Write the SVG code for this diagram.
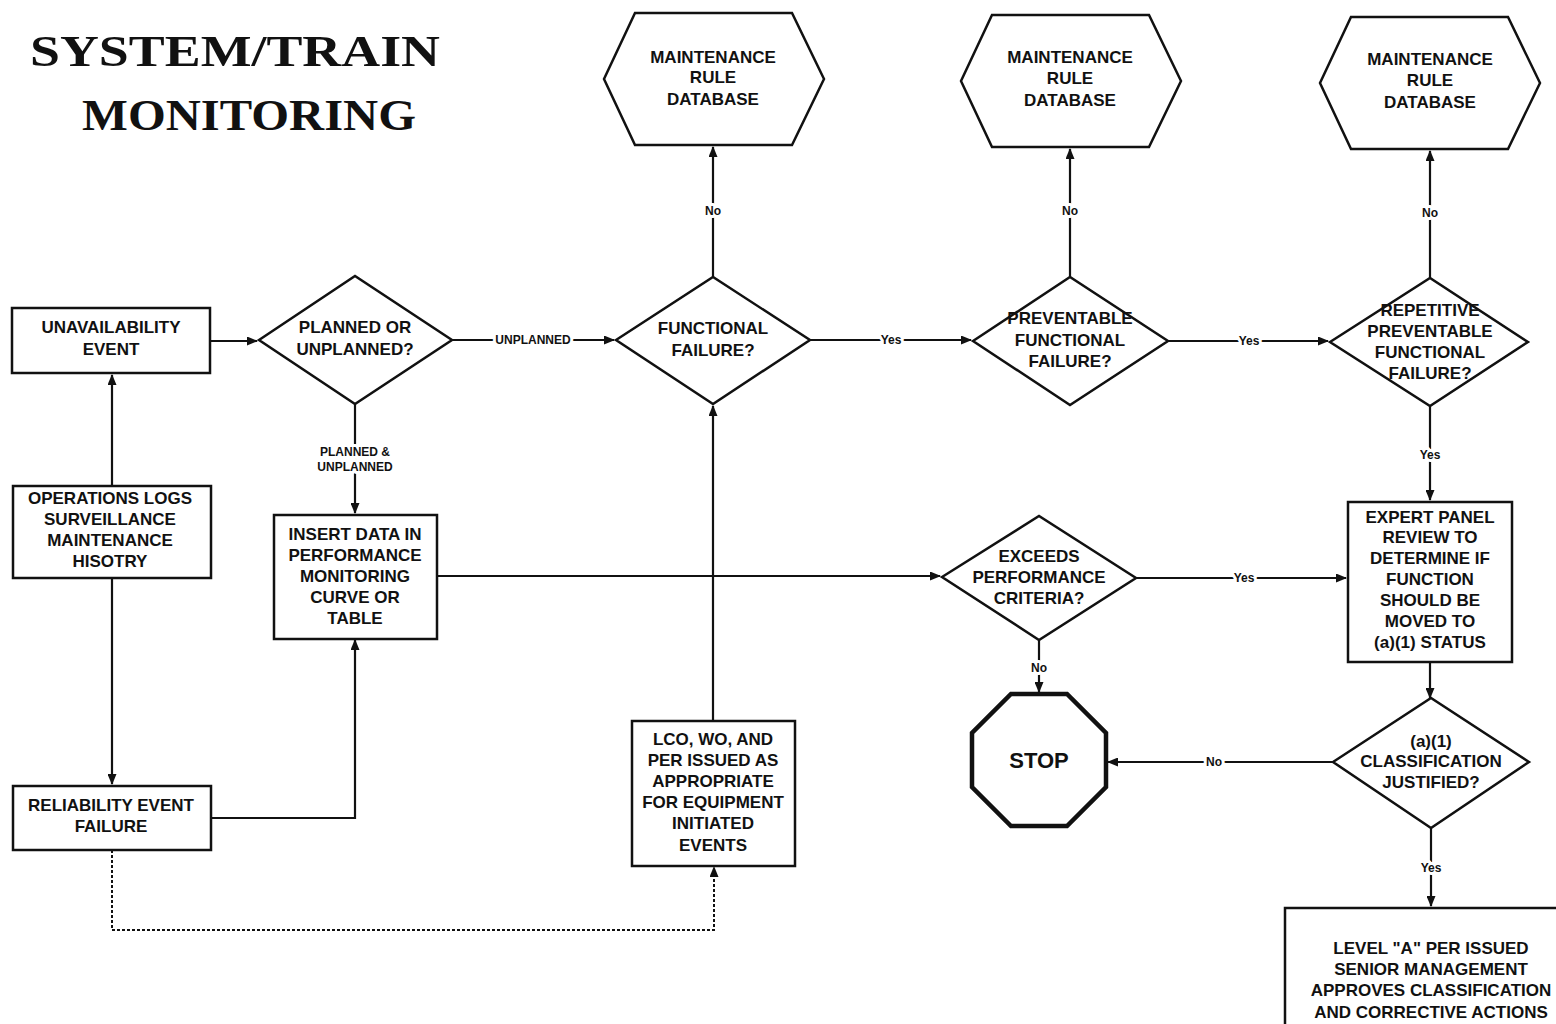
<svg xmlns="http://www.w3.org/2000/svg" width="1556" height="1024" viewBox="0 0 1556 1024">
<style>
.shape{fill:#fff;stroke:#111;stroke-width:2.5}
.stop{fill:#fff;stroke:#111;stroke-width:4.5}
.t{font-family:"Liberation Sans",Arial,sans-serif;font-weight:bold;font-size:17px;fill:#111;text-anchor:middle}
.lbl{font-family:"Liberation Sans",Arial,sans-serif;font-weight:bold;font-size:12px;fill:#111;text-anchor:middle;stroke:#fff;stroke-width:6;paint-order:stroke;stroke-linejoin:round}
.title{font-family:"Liberation Serif","Times New Roman",serif;font-weight:bold;font-size:44px;fill:#111;text-anchor:middle}
.c{fill:none;stroke:#111;stroke-width:2.2}
.d{fill:none;stroke:#111;stroke-width:2;stroke-dasharray:3 2}
</style>
<defs>
<marker id="ah" markerWidth="11" markerHeight="9" refX="10" refY="4.5" orient="auto" markerUnits="userSpaceOnUse">
<path d="M0,0 L11,4.5 L0,9 z" fill="#111"/>
</marker>
</defs>
<rect width="1556" height="1024" fill="#fff"/>

<g id="title">
<text class="title" x="235" y="66" textLength="410" lengthAdjust="spacingAndGlyphs">SYSTEM/TRAIN</text>
<text class="title" x="249" y="130" textLength="334" lengthAdjust="spacingAndGlyphs">MONITORING</text>
</g>

<g id="connectors">
<path class="c" d="M210,341 H257" marker-end="url(#ah)"/>
<path class="c" d="M452,340 H614" marker-end="url(#ah)"/>
<path class="c" d="M810,340 H971" marker-end="url(#ah)"/>
<path class="c" d="M1168,341 H1328" marker-end="url(#ah)"/>
<path class="c" d="M713,277 V147" marker-end="url(#ah)"/>
<path class="c" d="M1070,277 V149" marker-end="url(#ah)"/>
<path class="c" d="M1430,278 V151" marker-end="url(#ah)"/>
<path class="c" d="M355,404 V513" marker-end="url(#ah)"/>
<path class="c" d="M112,486 V375" marker-end="url(#ah)"/>
<path class="c" d="M112,578 V784" marker-end="url(#ah)"/>
<path class="c" d="M211,818 H355 V640" marker-end="url(#ah)"/>
<path class="d" d="M112,850 V930 H714 V867" marker-end="url(#ah)"/>
<path class="c" d="M713,722 V406" marker-end="url(#ah)"/>
<path class="c" d="M437,576 H940" marker-end="url(#ah)"/>
<path class="c" d="M1136,578 H1346" marker-end="url(#ah)"/>
<path class="c" d="M1430,406 V500" marker-end="url(#ah)"/>
<path class="c" d="M1039,640 V692" marker-end="url(#ah)"/>
<path class="c" d="M1430,662 V698" marker-end="url(#ah)"/>
<path class="c" d="M1333,762 H1108" marker-end="url(#ah)"/>
<path class="c" d="M1431,828 V906" marker-end="url(#ah)"/>
<text class="lbl" x="533" y="344">UNPLANNED</text>
<text class="lbl" x="891" y="344">Yes</text>
<text class="lbl" x="1249" y="345">Yes</text>
<text class="lbl" x="713" y="215">No</text>
<text class="lbl" x="1070" y="215">No</text>
<text class="lbl" x="1430" y="217">No</text>
<text class="lbl" x="355" y="456">PLANNED &amp;</text>
<text class="lbl" x="355" y="471">UNPLANNED</text>
<text class="lbl" x="1244" y="582">Yes</text>
<text class="lbl" x="1430" y="459">Yes</text>
<text class="lbl" x="1039" y="672">No</text>
<text class="lbl" x="1214" y="766">No</text>
<text class="lbl" x="1431" y="872">Yes</text>
</g>

<g id="hex1">
<polygon class="shape" points="604,79 635,13 792,13 824,79 792,145 635,145"/>
<text class="t" x="713" y="63">MAINTENANCE</text>
<text class="t" x="713" y="83">RULE</text>
<text class="t" x="713" y="105">DATABASE</text>
</g>
<g id="hex2">
<polygon class="shape" points="961,81 992,15 1149,15 1181,81 1149,147 992,147"/>
<text class="t" x="1070" y="63">MAINTENANCE</text>
<text class="t" x="1070" y="84">RULE</text>
<text class="t" x="1070" y="106">DATABASE</text>
</g>
<g id="hex3">
<polygon class="shape" points="1320,83 1351,17 1508,17 1540,83 1508,149 1351,149"/>
<text class="t" x="1430" y="65">MAINTENANCE</text>
<text class="t" x="1430" y="86">RULE</text>
<text class="t" x="1430" y="108">DATABASE</text>
</g>

<g id="unavailability">
<rect class="shape" x="12" y="308" width="198" height="65"/>
<text class="t" x="111" y="333">UNAVAILABILITY</text>
<text class="t" x="111" y="355">EVENT</text>
</g>
<g id="planned">
<polygon class="shape" points="259,340 355,276 452,340 355,404"/>
<text class="t" x="355" y="333">PLANNED OR</text>
<text class="t" x="355" y="355">UNPLANNED?</text>
</g>
<g id="functional">
<polygon class="shape" points="616,340 713,277 810,340 713,404"/>
<text class="t" x="713" y="334">FUNCTIONAL</text>
<text class="t" x="713" y="356">FAILURE?</text>
</g>
<g id="preventable">
<polygon class="shape" points="973,341 1070,277 1168,341 1070,405"/>
<text class="t" x="1070" y="324">PREVENTABLE</text>
<text class="t" x="1070" y="346">FUNCTIONAL</text>
<text class="t" x="1070" y="367">FAILURE?</text>
</g>
<g id="repetitive">
<polygon class="shape" points="1330,342 1430,278 1528,342 1430,406"/>
<text class="t" x="1430" y="316">REPETITIVE</text>
<text class="t" x="1430" y="337">PREVENTABLE</text>
<text class="t" x="1430" y="358">FUNCTIONAL</text>
<text class="t" x="1430" y="379">FAILURE?</text>
</g>
<g id="operations">
<rect class="shape" x="13" y="486" width="198" height="92"/>
<text class="t" x="110" y="504">OPERATIONS LOGS</text>
<text class="t" x="110" y="525">SURVEILLANCE</text>
<text class="t" x="110" y="546">MAINTENANCE</text>
<text class="t" x="110" y="567">HISOTRY</text>
</g>
<g id="insert">
<rect class="shape" x="274" y="515" width="163" height="124"/>
<text class="t" x="355" y="540">INSERT DATA IN</text>
<text class="t" x="355" y="561">PERFORMANCE</text>
<text class="t" x="355" y="582">MONITORING</text>
<text class="t" x="355" y="603">CURVE OR</text>
<text class="t" x="355" y="624">TABLE</text>
</g>
<g id="reliability">
<rect class="shape" x="13" y="786" width="198" height="64"/>
<text class="t" x="111" y="811">RELIABILITY EVENT</text>
<text class="t" x="111" y="832">FAILURE</text>
</g>
<g id="lco">
<rect class="shape" x="632" y="721" width="163" height="145"/>
<text class="t" x="713" y="745">LCO, WO, AND</text>
<text class="t" x="713" y="766">PER ISSUED AS</text>
<text class="t" x="713" y="787">APPROPRIATE</text>
<text class="t" x="713" y="808">FOR EQUIPMENT</text>
<text class="t" x="713" y="829">INITIATED</text>
<text class="t" x="713" y="851">EVENTS</text>
</g>
<g id="exceeds">
<polygon class="shape" points="942,577 1039,516 1136,578 1039,640"/>
<text class="t" x="1039" y="562">EXCEEDS</text>
<text class="t" x="1039" y="583">PERFORMANCE</text>
<text class="t" x="1039" y="604">CRITERIA?</text>
</g>
<g id="expert">
<rect class="shape" x="1348" y="502" width="164" height="160"/>
<text class="t" x="1430" y="523">EXPERT PANEL</text>
<text class="t" x="1430" y="543">REVIEW TO</text>
<text class="t" x="1430" y="564">DETERMINE IF</text>
<text class="t" x="1430" y="585">FUNCTION</text>
<text class="t" x="1430" y="606">SHOULD BE</text>
<text class="t" x="1430" y="627">MOVED TO</text>
<text class="t" x="1430" y="648">(a)(1) STATUS</text>
</g>
<g id="stop">
<polygon class="stop" points="1011,694 1067,694 1106,733 1106,787 1067,826 1011,826 972,787 972,733"/>
<text class="t" x="1039" y="768" style="font-size:22px">STOP</text>
</g>
<g id="justified">
<polygon class="shape" points="1333,762 1431,698 1529,762 1431,828"/>
<text class="t" x="1431" y="747">(a)(1)</text>
<text class="t" x="1431" y="767">CLASSIFICATION</text>
<text class="t" x="1431" y="788">JUSTIFIED?</text>
</g>
<g id="level-a">
<rect class="shape" x="1285" y="908" width="300" height="150"/>
<text class="t" x="1431" y="954">LEVEL "A" PER ISSUED</text>
<text class="t" x="1431" y="975">SENIOR MANAGEMENT</text>
<text class="t" x="1431" y="996">APPROVES CLASSIFICATION</text>
<text class="t" x="1431" y="1018">AND CORRECTIVE ACTIONS</text>
</g>
</svg>
